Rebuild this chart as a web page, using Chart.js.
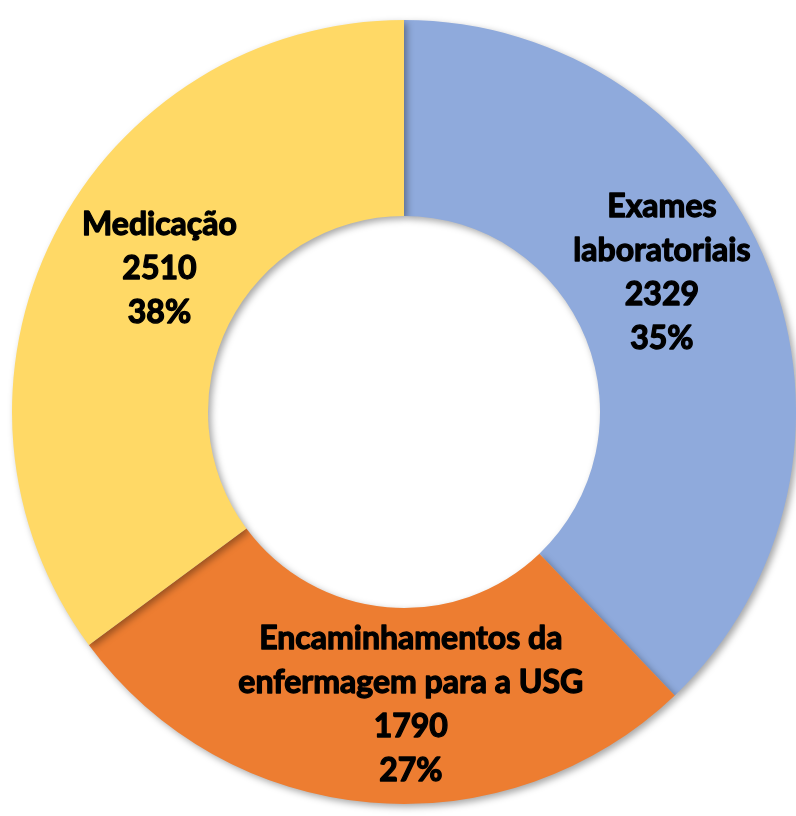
<!DOCTYPE html>
<html>
<head>
<meta charset="utf-8">
<script src="https://cdn.jsdelivr.net/npm/chart.js@4.4.0/dist/chart.umd.min.js"></script>
<style>
  html, body { margin: 0; padding: 0; background: #ffffff; }
  #wrap { width: 796px; height: 816px; }
</style>
</head>
<body>
<div id="wrap"><canvas id="donutChart" width="796" height="816"></canvas></div>
<script>
var categorias = [
  ['Exames', 'laboratoriais'],
  ['Encaminhamentos da', 'enfermagem para a USG'],
  ['Medicação']
];
// tamanho das fatias como aparecem no grafico original
var valores = [2510, 1790, 2329];
// textos dos rotulos como impressos no original
var valoresRotulo = ['2329', '1790', '2510'];
var percentuais = ['35%', '27%', '38%'];
var cores = ['#8FAADC', '#ED7D31', '#FFD966'];

// ajuste fino dos rotulos (px) em relacao ao meio da fatia
const ajusteRotulos = [[-15, -30], [32, 0], [18, -11]];

// sombra leve nas fatias, como no original
const sombraPlugin = {
  id: 'sombra',
  beforeDatasetDraw(chart) {
    const ctx = chart.ctx;
    ctx.save();
    ctx.shadowColor = 'rgba(0,0,0,0.35)';
    ctx.shadowBlur = 7;
    ctx.shadowOffsetX = 3;
    ctx.shadowOffsetY = 3;
  },
  afterDatasetDraw(chart) {
    chart.ctx.restore();
  }
};

// rotulos dentro das fatias
const rotulosPlugin = {
  id: 'rotulos',
  afterDatasetsDraw(chart) {
    const ctx = chart.ctx;
    const meta = chart.getDatasetMeta(0);
    ctx.save();
    ctx.font = 'bold 32px Lato, "Open Sans", sans-serif';
    ctx.fillStyle = '#000000';
    ctx.strokeStyle = '#000000';
    ctx.lineWidth = 1.3;
    ctx.lineJoin = 'round';
    ctx.textAlign = 'center';
    ctx.textBaseline = 'middle';
    const lh = 44;
    meta.data.forEach((arc, i) => {
      const p = arc.getProps(['x', 'y', 'startAngle', 'endAngle', 'innerRadius', 'outerRadius'], true);
      const mid = (p.startAngle + p.endAngle) / 2;
      const r = (p.innerRadius + p.outerRadius) / 2;
      const cx = p.x + Math.cos(mid) * r + ajusteRotulos[i][0];
      const cy = p.y + Math.sin(mid) * r + ajusteRotulos[i][1];
      const linhas = categorias[i].concat([valoresRotulo[i], percentuais[i]]);
      const y0 = cy - (linhas.length - 1) * lh / 2;
      linhas.forEach((t, k) => {
        ctx.strokeText(t, cx, y0 + k * lh);
        ctx.fillText(t, cx, y0 + k * lh);
      });
    });
    ctx.restore();
  }
};

new Chart(document.getElementById('donutChart'), {
  type: 'doughnut',
  data: {
    labels: categorias.map(c => c.join(' ')),
    datasets: [{
      data: valores,
      backgroundColor: cores,
      borderWidth: 0
    }]
  },
  options: {
    responsive: false,
    animation: false,
    cutout: '50%',
    layout: { padding: { left: 12, right: 0, top: 18, bottom: 10 } },
    plugins: {
      legend: { display: false },
      tooltip: { enabled: false }
    }
  },
  plugins: [sombraPlugin, rotulosPlugin]
});
</script>
</body>
</html>
